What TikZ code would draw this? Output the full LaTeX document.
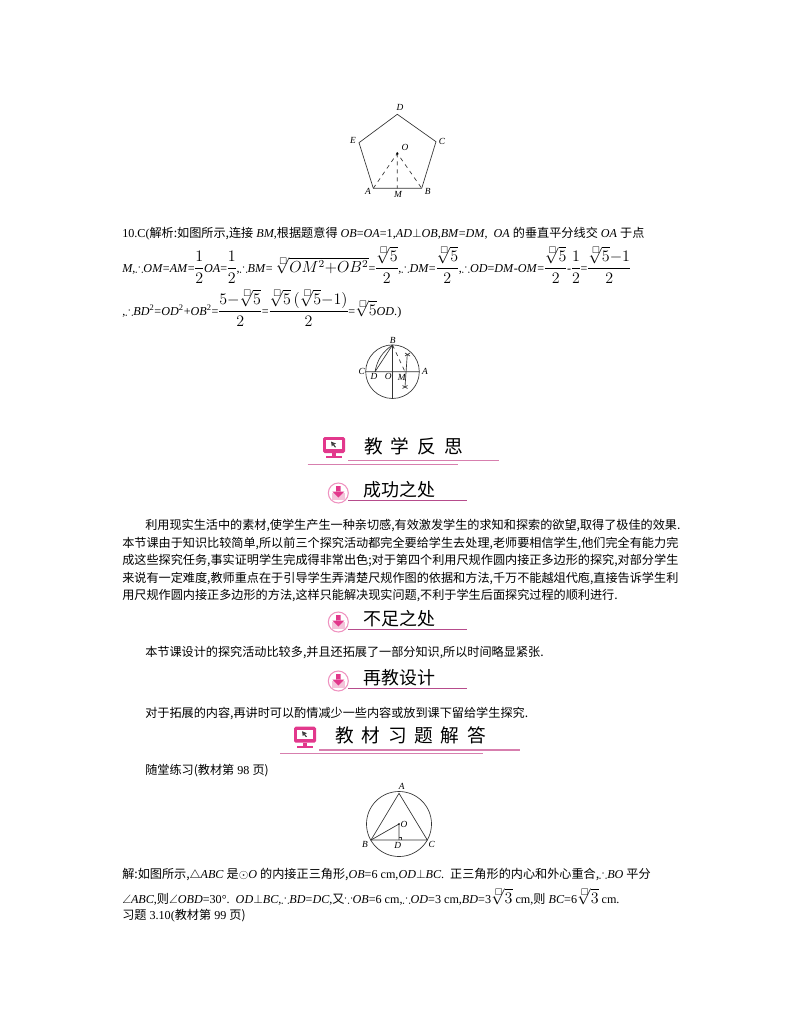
\documentclass[tikz,border=0pt]{standalone}
\usepackage{amsmath}
\usepackage{amssymb}
\usepackage{fontspec}
\setmainfont{Liberation Serif}
\newfontfamily\cjk[Scale=0.91]{Noto Sans CJK SC}
\newcommand{\zh}[1]{{\fontsize{10}{12}\selectfont\cjk #1}}
\newcommand{\rt}[1]{\mkern-4mu\sqrt[\leftroot{-3}\scriptscriptstyle\square]{#1}}
\newcommand{\mf}[2]{{\fontsize{11.5}{13}\selectfont\nulldelimiterspace=0.6pt$\dfrac{#1}{#2}$}}
\newcommand{\mr}[1]{{\fontsize{11.5}{13}\selectfont$#1$}}
\definecolor{rosepink}{HTML}{E2388C}
\definecolor{rosedark}{HTML}{B64C8C}
\definecolor{roseline}{HTML}{D77FAE}
\definecolor{rosepale}{HTML}{F4C3DA}
\tikzset{
  txt/.style={anchor=west,inner sep=0pt,font=\fontsize{9.1}{11}\selectfont},
  zhline/.style={anchor=west,inner sep=0pt,font=\fontsize{10}{12}\selectfont\cjk},
  lab/.style={inner sep=0pt,font=\fontsize{7}{8}\selectfont\itshape},
  fig/.style={line width=0.5pt,black!80},
  bighead/.style={anchor=west,inner sep=0pt,font=\fontsize{15.4}{17}\selectfont\cjk},
  subhead/.style={anchor=west,inner sep=0pt,font=\fontsize{14.8}{17}\selectfont\cjk},
  pics/screenicon/.style={code={
    \fill[rosepink,rounded corners=1.2] (0,0) rectangle (22,16);
    \fill[white] (3,3) rectangle (19,12);
    \fill[black!75] (8,4.5) -- (13,6.5) -- (11,7.5) -- (13,10) -- (12,10.5) -- (10,8) -- (8.8,9.5) -- cycle;
    \fill[rosepink] (9,16) rectangle (13,19);
    \fill[rosepink] (3,19) rectangle (19,21);
  }},
  pics/downicon/.style={code={
    \draw[rosepink!55,line width=0.8pt,fill=white] (0,0) circle (10);
    \fill[rosepale] (-6.5,0) -- (6.5,0) -- (6.5,7) -- (-6.5,7) -- cycle;
    \fill[rosepink] (-2.3,-7) rectangle (2.3,-1) (-6,-1.5) -- (6,-1.5) -- (0,4.5) -- cycle;
  }}
}
\begin{document}
\begin{tikzpicture}[x=0.75pt,y=-0.75pt]
  \useasboundingbox[fill=white] (0,0) rectangle (800,1028);
  % pentagon
  \coordinate (penA) at (373.3,188.3);
  \coordinate (penB) at (421.7,188.3);
  \coordinate (penC) at (436,141.7);
  \coordinate (penD) at (397.3,114.3);
  \coordinate (penE) at (359,142.7);
  \coordinate (penO) at (397.3,153.3);
  \coordinate (penM) at (397.3,188.3);
  \draw[fig] (penA) -- (penB) -- (penC) -- (penD) -- (penE) -- cycle;
  \draw[fig,dashed] (penA) -- (penO) -- (penB) (penO) -- (penM);
  \fill (penO) circle (1.2);
  \foreach \x/\y/\name in {368/191.7/A,427.7/191.7/B,442/141/C,400/107.7/D,353/140/E,405/147.7/O,398/194.3/M}
    \node[lab] (pen\name text) at (\x,\y) {\name};
  % text of answer 10
  \node[txt] (ans1) at (122,234) {10.C(\zh{解析:如图所示,连接} \textit{BM},\zh{根据题意得} \textit{OB}=\textit{OA}=1,\textit{AD}$\perp$\textit{OB},\textit{BM}=\textit{DM},\ \ \textit{OA} \zh{的垂直平分线交} \textit{OA} \zh{于点}};
  \node[txt] (ans2) at (122,265) {\textit{M},$\therefore$\textit{OM}=\textit{AM}=\mf{1}{2}\textit{OA}=\mf{1}{2},$\therefore$\textit{BM}= \mr{\rt{OM^2{+}OB^2}}=\mf{\rt{5}}{2},$\therefore$\textit{DM}=\mf{\rt{5}}{2},$\therefore$\textit{OD}=\textit{DM}-\textit{OM}=\mf{\rt{5}}{2}-\mf{1}{2}=\mf{\rt{5}{-}1}{2}};
  \node[txt] (ans3) at (122,308) {,$\therefore$\textit{BD}\textsuperscript{2}=\textit{OD}\textsuperscript{2}+\textit{OB}\textsuperscript{2}=\mf{5{-}\rt{5}}{2}=\mf{\rt{5}\,(\rt{5}{-}1)}{2}=\mr{\rt{5}}\textit{OD}.)};
  % circle with the compass arc
  \coordinate (cirO) at (392.5,371.7);
  \coordinate (cirA) at (419.3,371.7);
  \coordinate (cirB) at (392.5,345);
  \coordinate (cirC) at (365.7,371.7);
  \coordinate (cirS) at (392.5,398.4);
  \coordinate (cirD) at (375,371.7);
  \coordinate (cirM) at (405,371.7);
  \draw[fig] (cirO) circle (26.8);
  \draw[fig] (cirC) -- (cirA) (cirB) -- (cirS) (cirB) -- (cirD);
  \draw[fig] (cirB) to[bend right=22] (cirD);
  \draw[fig,dashed] (cirB) -- (cirM);
  \draw[fig] (407.3,354) -- (405,387);
  \draw[fig] (405,353) -- (410,356) (410,353) -- (405,356) (402.5,385.5) -- (407.5,388.5) (407.5,385.5) -- (402.5,388.5);
  \foreach \x/\y/\name in {392.7/340/B,361.7/371.7/C,374/376.7/D,388.3/376.7/O,401.7/377/M,425/371.7/A}
    \node[lab] (cir\name text) at (\x,\y) {\name};
  % big headers
  \pic at (323,437) {screenicon};
  \node[bighead] (headA) at (364,446.7) {教\hspace{6pt}学\hspace{6pt}反\hspace{6pt}思};
  \draw[roseline,line width=0.8pt] (348,460.7) -- (499.3,460.7);
  \draw[roseline,line width=0.8pt] (307.7,464.3) -- (458.3,464.3);
  \pic at (294,726.7) {screenicon};
  \node[bighead] (headB) at (335,735.7) {教\hspace{5.8pt}材\hspace{5.8pt}习\hspace{5.8pt}题\hspace{5.8pt}解\hspace{5.8pt}答};
  \draw[roseline,line width=0.8pt] (319.3,750) -- (520,750);
  \draw[roseline,line width=0.8pt] (280,753.7) -- (483.3,753.7);
  % small headers
  \foreach \y/\head in {490/成功之处,619/不足之处,678/再教设计}{
    \pic at (338.3,\y+3) {downicon};
    \node[subhead] (sub\y) at (363,\y) {\head};
    \draw[rosedark,line width=1pt] (348,\y+10.7) -- (466.7,\y+10.7);
  }
  % body text
  \node[zhline] (body1) at (145,525) {利用现实生活中的素材,使学生产生一种亲切感,有效激发学生的求知和探索的欲望,取得了极佳的效果.};
  \node[zhline] (body2) at (122,543) {本节课由于知识比较简单,所以前三个探究活动都完全要给学生去处理,老师要相信学生,他们完全有能力完};
  \node[zhline] (body3) at (122,560) {成这些探究任务,事实证明学生完成得非常出色;对于第四个利用尺规作圆内接正多边形的探究,对部分学生};
  \node[zhline] (body4) at (122,578) {来说有一定难度,教师重点在于引导学生弄清楚尺规作图的依据和方法,千万不能越俎代庖,直接告诉学生利};
  \node[zhline] (body5) at (122,595) {用尺规作圆内接正多边形的方法,这样只能解决现实问题,不利于学生后面探究过程的顺利进行.};
  \node[zhline] (lack1) at (145,653) {本节课设计的探究活动比较多,并且还拓展了一部分知识,所以时间略显紧张.};
  \node[zhline] (again1) at (145,713) {对于拓展的内容,再讲时可以酌情减少一些内容或放到课下留给学生探究.};
  \node[txt] (prac1) at (145,771) {\zh{随堂练习(教材第} 98 \zh{页)}};
  % inscribed triangle
  \coordinate (triA) at (399,793.3);
  \coordinate (triB) at (371,840);
  \coordinate (triC) at (427.3,840);
  \coordinate (triO) at (399,824);
  \coordinate (triD) at (399,840);
  \draw[fig] (triO) circle (32.5);
  \draw[fig] (triA) -- (triB) -- (triC) -- cycle;
  \draw[fig] (triB) -- (triO) -- (triD);
  \draw[fig] (399,837.5) -- (401.5,837.5) -- (401.5,840);
  \fill (triO) circle (0.9);
  \foreach \x/\y/\name in {401.7/786/A,365/844/B,431.7/844/C,404/824/O,397.7/845/D}
    \node[lab] (tri\name text) at (\x,\y) {\name};
  % solution text
  \node[txt] (sol1) at (122,875) {\zh{解:如图所示,}$\triangle$\textit{ABC} \zh{是}$\odot$\textit{O} \zh{的内接正三角形,}\textit{OB}=6 cm,\textit{OD}$\perp$\textit{BC}.\ \ \zh{正三角形的内心和外心重合,}$\therefore$\textit{BO} \zh{平分}};
  \node[txt] (sol2) at (122,897) {$\angle$\textit{ABC},\zh{则}$\angle$\textit{OBD}=30°.\ \ \textit{OD}$\perp$\textit{BC},$\therefore$\textit{BD}=\textit{DC},\zh{又}$\because$\textit{OB}=6 cm,$\therefore$\textit{OD}=3 cm,\textit{BD}=3\mr{\rt{3}} cm,\zh{则} \textit{BC}=6\mr{\rt{3}} cm.};
  \node[txt] (sol3) at (122,916) {\zh{习题} 3.10(\zh{教材第} 99 \zh{页)}};
\end{tikzpicture}
\end{document}
